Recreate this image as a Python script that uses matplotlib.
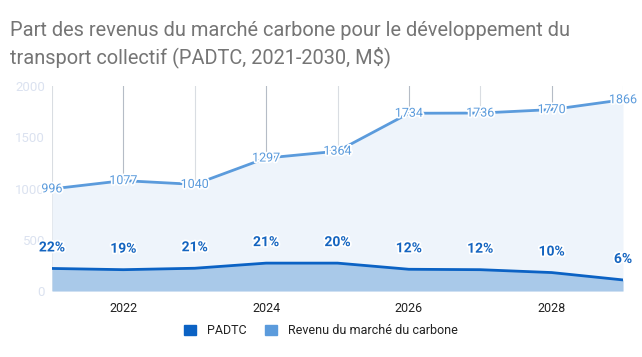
import matplotlib
matplotlib.use("Agg")
import matplotlib.pyplot as plt
import matplotlib.patheffects as pe
from matplotlib.patches import Patch

plt.rcParams['font.family'] = ['Roboto', 'DejaVu Sans']

years = [2021, 2022, 2023, 2024, 2025, 2026, 2027, 2028, 2029]
revenu = [996, 1077, 1040, 1297, 1364, 1734, 1736, 1770, 1866]
padtc = [220, 208, 222, 272, 272, 212, 208, 180, 108]
padtc_pct = ["22%", "19%", "21%", "21%", "20%", "12%", "12%", "10%", "6%"]
yticks = [0, 500, 1000, 1500, 2000]
xticks = [2022, 2024, 2026, 2028]

c_rev = '#5b9bdc'
c_rev_fill = '#eef4fb'
c_pad = '#0b62c4'
c_pad_fill = '#a9c9e9'

fig = plt.figure(figsize=(6.42, 3.57), dpi=100)
ax = fig.add_axes([52/642, 1-291/357, (623-52)/642, (291-86)/357])

for x in years:
    ax.axvline(x, color='#b5bcc6' if x % 2 == 0 else '#d9dde2', lw=0.8, zorder=0)

ax.fill_between(years, revenu, color=c_rev_fill, zorder=1, lw=0)
ax.plot(years, revenu, color=c_rev, lw=2, zorder=3)
ax.fill_between(years, padtc, color=c_pad_fill, zorder=2, lw=0)
ax.plot(years, padtc, color=c_pad, lw=2, zorder=4)

stroke = [pe.withStroke(linewidth=2.5, foreground='white')]
for x, v in zip(years, revenu):
    ax.annotate(str(v), (x, v), ha='center', va='center', fontsize=9,
                color=c_rev, path_effects=stroke, zorder=6)
for x, v, s in zip(years, padtc, padtc_pct):
    ax.annotate(s, (x, v), xytext=(0, 21), textcoords='offset pixels',
                ha='center', va='center', fontsize=10, fontweight='bold',
                color='#1565c0', path_effects=stroke, zorder=6)

ax.set_xlim(2021, 2029)
ax.set_ylim(0, 2000)
ax.set_yticks(yticks)
ax.set_xticks(xticks)
ax.tick_params(axis='y', length=0, labelsize=9.5, labelcolor='#dbe2f0', pad=5)
ax.tick_params(axis='x', length=0, labelsize=9, labelcolor='#222222', pad=8)
for s in ax.spines.values():
    s.set_visible(False)
ax.set_facecolor('none')

fig.text(10/642, 1-30/357, "Part des revenus du marché carbone pour le développement du",
         fontsize=14.4, color='#757575', va='center')
fig.text(10/642, 1-57/357, "transport collectif (PADTC, 2021-2030, M$)",
         fontsize=14.4, color='#757575', va='center')

handles = [Patch(color=c_pad, label='PADTC'), Patch(color=c_rev, label='Revenu du marché du carbone')]
fig.legend(handles=handles, loc='center', bbox_to_anchor=(0.5, 1-331/357), ncol=2,
           frameon=False, fontsize=9, handlelength=0.9, handleheight=0.9,
           columnspacing=1.5, handletextpad=0.9, labelcolor='#222222')

fig.savefig('out.png', dpi=100)
